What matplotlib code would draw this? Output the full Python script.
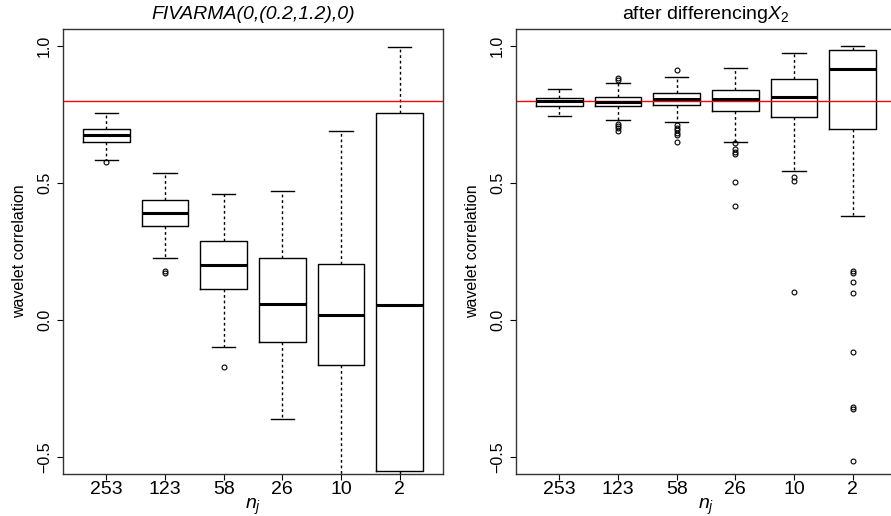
import matplotlib
matplotlib.use("Agg")
import matplotlib.pyplot as plt

plt.rcParams["font.family"] = ["Liberation Sans", "DejaVu Sans"]
plt.rcParams["mathtext.fontset"] = "custom"
plt.rcParams["mathtext.rm"] = "Liberation Sans"
plt.rcParams["mathtext.it"] = "Liberation Sans:italic"

labels = ["253", "123", "58", "26", "10", "2"]
ref_line = 0.8

# left panel: FIVARMA(0,(0.2,1.2),0)
left_whislo = [0.584, 0.226, -0.097, -0.362, -0.62, -0.60]
left_q1 = [0.651, 0.343, 0.112, -0.079, -0.163, -0.551]
left_med = [0.675, 0.389, 0.200, 0.060, 0.019, 0.056]
left_q3 = [0.698, 0.437, 0.289, 0.227, 0.206, 0.754]
left_whishi = [0.754, 0.536, 0.459, 0.471, 0.691, 0.998]
left_fliers = [[0.575], [0.178, 0.171], [-0.170], [], [], []]

# right panel: after differencing X2
right_whislo = [0.746, 0.731, 0.722, 0.649, 0.543, 0.380]
right_q1 = [0.781, 0.781, 0.785, 0.763, 0.742, 0.696]
right_med = [0.799, 0.794, 0.807, 0.807, 0.813, 0.916]
right_q3 = [0.811, 0.815, 0.830, 0.841, 0.881, 0.987]
right_whishi = [0.843, 0.865, 0.886, 0.921, 0.974, 0.999]
right_fliers = [
    [],
    [0.884, 0.876, 0.715, 0.708, 0.700, 0.690],
    [0.912, 0.713, 0.702, 0.692, 0.684, 0.674, 0.649],
    [0.645, 0.625, 0.614, 0.607, 0.503, 0.417],
    [0.521, 0.508, 0.101],
    [0.178, 0.173, 0.139, 0.097, -0.117, -0.316, -0.324, -0.514],
]


def make_stats(lo, q1, med, q3, hi, fl):
    return [dict(whislo=a, q1=b, med=c, q3=d, whishi=e, fliers=f)
            for a, b, c, d, e, f in zip(lo, q1, med, q3, hi, fl)]


def draw_panel(ax, stats, title):
    ax.bxp(stats, positions=range(1, 7), widths=0.8, capwidths=0.4,
           boxprops=dict(color="black", linewidth=1),
           medianprops=dict(color="black", linewidth=2.2),
           whiskerprops=dict(color="black", linewidth=1, linestyle=(0, (2, 2))),
           capprops=dict(color="black", linewidth=1),
           flierprops=dict(marker="o", markersize=3.5, markerfacecolor="none",
                           markeredgecolor="black", markeredgewidth=0.8))
    ax.axhline(ref_line, color="red", linewidth=1)
    ax.set_xlim(0.26, 6.74)
    ax.set_ylim(-0.562, 1.062)
    ax.set_xticks(range(1, 7))
    ax.set_xticklabels(labels, fontsize=14)
    ax.set_yticks([-0.5, 0.0, 0.5, 1.0])
    ax.set_yticklabels(["\u22120.5", "0.0", "0.5", "1.0"], fontsize=11.5,
                       rotation=90, va="center")
    ax.tick_params(axis="x", length=4, pad=1)
    ax.tick_params(axis="y", length=4, pad=4)
    ax.set_xlabel("$n_j$", fontsize=14, labelpad=-1)
    ax.set_ylabel("wavelet correlation", fontsize=11.5, labelpad=7)
    ax.set_title(title, fontsize=14, pad=7)
    for s in ax.spines.values():
        s.set_color("#333333")
        s.set_linewidth(1)


fig = plt.figure(figsize=(8.91, 5.16), dpi=100)
ax1 = fig.add_axes([63 / 891, 42 / 516, 380 / 891, 445 / 516])
ax2 = fig.add_axes([516 / 891, 42 / 516, 380 / 891, 445 / 516])

draw_panel(ax1, make_stats(left_whislo, left_q1, left_med, left_q3, left_whishi, left_fliers),
           "FIVARMA(0,(0.2,1.2),0)")
ax1.title.set_fontstyle("italic")
draw_panel(ax2, make_stats(right_whislo, right_q1, right_med, right_q3, right_whishi, right_fliers),
           "after differencing$X_2$")

fig.savefig("out.png", dpi=100)
